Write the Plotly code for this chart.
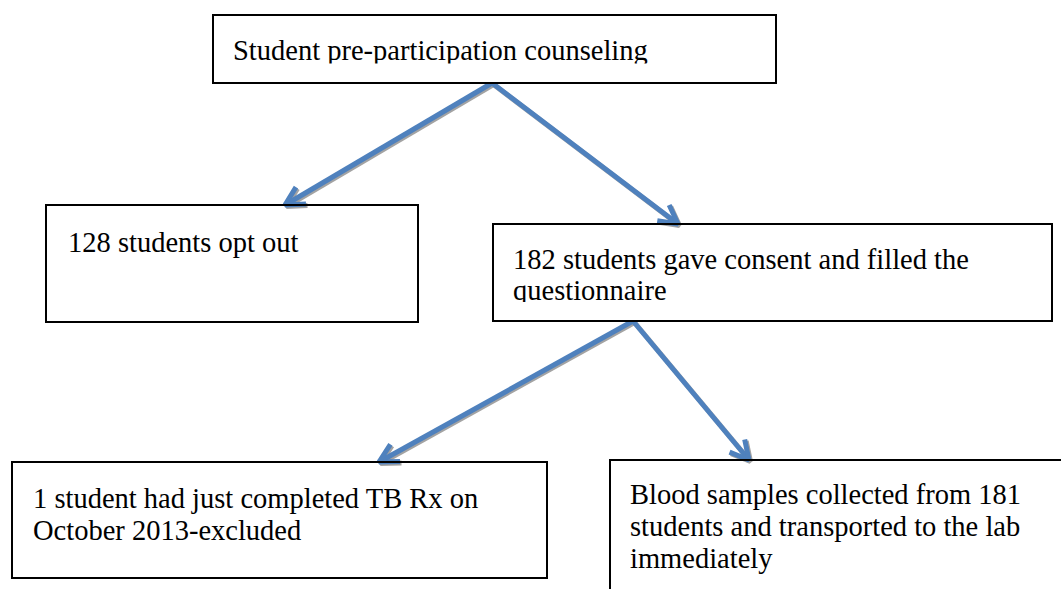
import math
import plotly.graph_objects as go

# ---------------- data: node texts and flow edges ----------------
top_lines = ["Student pre-participation counseling"]
optout_lines = ["128 students opt out"]
consent_lines = ["182 students gave consent and filled the", "questionnaire"]
excluded_lines = ["1 student had just completed TB Rx on", "October 2013-excluded"]
blood_lines = ["Blood samples collected from 181",
               "students and transported to the lab",
               "immediately"]

node_texts = [top_lines, optout_lines, consent_lines, excluded_lines, blood_lines]
edges = [(0, 1), (0, 2), (2, 3), (2, 4)]

# ---------------- layout geometry (pixels, y downward) ----------------
W, H = 1061, 589
boxes = [
    dict(x0=213, y0=15, x1=776, y1=83, tx=233, base=60, gap=32, clip=63.5),
    dict(x0=46, y0=205, x1=418, y1=322, tx=68, base=252, gap=32, clip=None),
    dict(x0=493, y0=224, x1=1052, y1=321, tx=513, base=269, gap=31, clip=302),
    dict(x0=12, y0=462, x1=547, y1=578, tx=33, base=508, gap=32, clip=None),
    dict(x0=610, y0=460, x1=1090, y1=620, tx=630, base=504, gap=32, clip=None),
]
# (x where the edge leaves the source bottom, x where it hits the target top)
edge_x = [(492, 285), (492, 678), (633, 379), (633, 749)]

FONT = "Liberation Serif, Times New Roman, serif"
FS = 28.5
BLUE = "#4f81bd"
SHADOW = "#a3a3a3"
LW = 5
HEAD_LEN = 21
HEAD_ANG = math.radians(28)

fig = go.Figure()

# arrows
for (src, dst), (sx, ex) in zip(edges, edge_x):
    sy = boxes[src]["y1"]
    ey = boxes[dst]["y0"]
    back = math.atan2(sy - ey, sx - ex)
    a1 = (ex + HEAD_LEN * math.cos(back + HEAD_ANG), ey + HEAD_LEN * math.sin(back + HEAD_ANG))
    a2 = (ex + HEAD_LEN * math.cos(back - HEAD_ANG), ey + HEAD_LEN * math.sin(back - HEAD_ANG))
    xs = [sx, ex, None, a1[0], ex, a2[0]]
    ys = [sy, ey, None, a1[1], ey, a2[1]]
    fig.add_trace(go.Scatter(
        x=[v + 1.5 if v is not None else None for v in xs],
        y=[v + 1.5 if v is not None else None for v in ys],
        mode="lines", line=dict(color=SHADOW, width=LW), hoverinfo="skip"))
    fig.add_trace(go.Scatter(x=xs, y=ys, mode="lines",
                             line=dict(color=BLUE, width=LW), hoverinfo="skip"))

# texts
for lines, b in zip(node_texts, boxes):
    ys = [b["base"] + i * b["gap"] - 0.25 * FS for i in range(len(lines))]
    fig.add_trace(go.Scatter(
        x=[b["tx"]] * len(lines), y=ys, text=lines, mode="text",
        textposition="middle right",
        textfont=dict(family=FONT, size=FS, color="black"),
        hoverinfo="skip"))

# boxes (with clipping of text overflow like the original)
shapes = []
for b in boxes:
    if b["clip"] is not None:
        shapes.append(dict(type="rect", xref="x", yref="y", layer="above",
                           x0=b["x0"] + 1, x1=b["x1"] - 1, y0=b["clip"], y1=b["y1"] - 1,
                           fillcolor="white", line=dict(width=0)))
    shapes.append(dict(type="rect", xref="x", yref="y", layer="above",
                       x0=b["x0"], x1=b["x1"], y0=b["y0"], y1=b["y1"],
                       fillcolor="rgba(0,0,0,0)", line=dict(color="black", width=2)))

fig.update_layout(
    width=W, height=H, margin=dict(l=0, r=0, t=0, b=0),
    paper_bgcolor="white", plot_bgcolor="white",
    showlegend=False, hovermode=False, shapes=shapes,
    xaxis=dict(range=[0, W], visible=False, fixedrange=True),
    yaxis=dict(range=[H, 0], visible=False, fixedrange=True),
)

fig.write_html("out.html", config={"displayModeBar": False},
               post_script="document.body.style.margin='0px';document.body.style.overflow='hidden';")
